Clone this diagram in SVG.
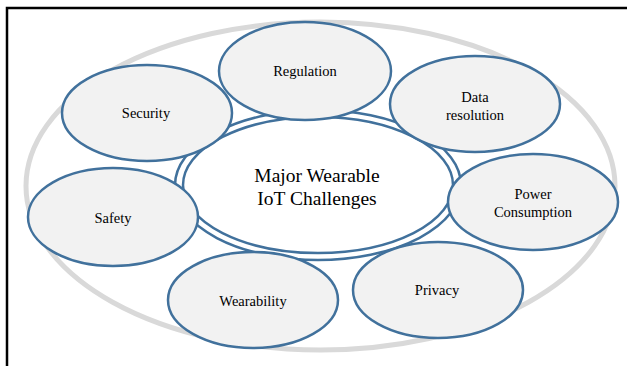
<svg xmlns="http://www.w3.org/2000/svg" width="627" height="366" viewBox="0 0 627 366">
<style>
.sat{fill:#F2F2F2;stroke:#41719C;stroke-width:2.5}
.lbl{font-family:"Liberation Serif","Times New Roman",serif;font-size:14.5px;fill:#000;text-anchor:middle;dominant-baseline:central}
.big{font-family:"Liberation Serif","Times New Roman",serif;font-size:19.5px;fill:#000;text-anchor:middle;dominant-baseline:central}
</style>
<rect width="627" height="366" fill="#fff"/>
<g id="frame" stroke="#000" stroke-width="2.5" fill="none">
<path d="M7 366 V8 H627"/>
</g>
<g id="ring"><ellipse cx="320.5" cy="186" rx="294.5" ry="164" fill="none" stroke="#D9D9D9" stroke-width="5"/></g>
<g id="connectors"></g>
<g id="center">
<ellipse cx="318" cy="185" rx="143" ry="75" fill="#fff" stroke="#41719C" stroke-width="2.5"/>
<ellipse cx="318" cy="185" rx="135" ry="68" fill="#fff" stroke="#41719C" stroke-width="2.5"/>
<text class="big" x="317" y="175">Major Wearable</text>
<text class="big" x="317" y="198">IoT Challenges</text>
</g>
<g id="regulation"><ellipse class="sat" cx="305" cy="71" rx="86" ry="49"/><text class="lbl" x="305" y="71">Regulation</text></g>
<g id="data-resolution"><ellipse class="sat" cx="475" cy="104" rx="85" ry="48"/><text class="lbl" x="475" y="97">Data</text><text class="lbl" x="475" y="115">resolution</text></g>
<g id="security"><ellipse class="sat" cx="147" cy="113" rx="85" ry="48"/><text class="lbl" x="146" y="113">Security</text></g>
<g id="safety"><ellipse class="sat" cx="113" cy="217" rx="85" ry="49"/><text class="lbl" x="113" y="218">Safety</text></g>
<g id="power-consumption"><ellipse class="sat" cx="533" cy="202" rx="85" ry="48"/><text class="lbl" x="533" y="194">Power</text><text class="lbl" x="533" y="212">Consumption</text></g>
<g id="privacy"><ellipse class="sat" cx="438" cy="290" rx="85" ry="48"/><text class="lbl" x="437" y="290">Privacy</text></g>
<g id="wearability"><ellipse class="sat" cx="253" cy="300" rx="85" ry="48"/><text class="lbl" x="253" y="301">Wearability</text></g>
</svg>
